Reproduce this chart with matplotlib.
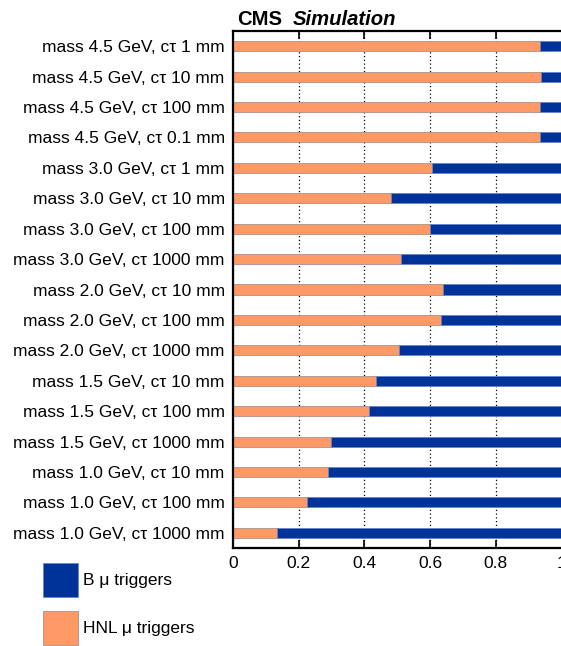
import matplotlib
matplotlib.use('Agg')
import matplotlib.pyplot as plt

plt.rcParams['font.family'] = ['Liberation Sans', 'DejaVu Sans']

# signal samples, top to bottom
samples = [
    'mass 4.5 GeV, cτ 1 mm',
    'mass 4.5 GeV, cτ 10 mm',
    'mass 4.5 GeV, cτ 100 mm',
    'mass 4.5 GeV, cτ 0.1 mm',
    'mass 3.0 GeV, cτ 1 mm',
    'mass 3.0 GeV, cτ 10 mm',
    'mass 3.0 GeV, cτ 100 mm',
    'mass 3.0 GeV, cτ 1000 mm',
    'mass 2.0 GeV, cτ 10 mm',
    'mass 2.0 GeV, cτ 100 mm',
    'mass 2.0 GeV, cτ 1000 mm',
    'mass 1.5 GeV, cτ 10 mm',
    'mass 1.5 GeV, cτ 100 mm',
    'mass 1.5 GeV, cτ 1000 mm',
    'mass 1.0 GeV, cτ 10 mm',
    'mass 1.0 GeV, cτ 100 mm',
    'mass 1.0 GeV, cτ 1000 mm',
]
# fraction of events from HNL muon triggers
hnl_frac = [0.936, 0.937, 0.936, 0.936, 0.606, 0.480, 0.600, 0.511,
            0.639, 0.632, 0.506, 0.434, 0.414, 0.298, 0.288, 0.226, 0.134]
b_frac = [1 - f for f in hnl_frac]

xticks = [0, 0.2, 0.4, 0.6, 0.8, 1]
xticklabels = ['0', '0.2', '0.4', '0.6', '0.8', '1']

orange = '#ff9966'
blue = '#003399'

fig = plt.figure(figsize=(5.61, 6.46), dpi=100)
ax = fig.add_axes([233 / 561, 98 / 646, 328.5 / 561, 517 / 646])

y = list(range(len(samples)))
h_hnl = ax.barh(y, hnl_frac, height=0.33, color=orange,
                edgecolor='#b09088', linewidth=0.6, zorder=2)
h_b = ax.barh(y, b_frac, left=hnl_frac, height=0.33, color=blue,
              edgecolor='#6a86c4', linewidth=0.6, zorder=2)

ax.set_ylim(len(samples) - 0.5, -0.5)
ax.set_xlim(0, 1)
ax.set_yticks(y)
ax.set_yticklabels(samples, fontsize=12.5)
ax.set_xticks(xticks)
ax.set_xticklabels(xticklabels, fontsize=12.5)
ax.tick_params(axis='x', direction='in', length=6, width=1.2, top=True,
               pad=6, color='black')
ax.tick_params(axis='y', direction='in', length=2, width=0.8, pad=6)

ax.set_axisbelow(True)
ax.grid(axis='x', linestyle=(0, (1, 2)), color='black', linewidth=0.9)

for side in ['left', 'top', 'bottom']:
    ax.spines[side].set_linewidth(1.6)
ax.spines['right'].set_visible(False)

fig.text(237 / 561, 1 - 25 / 646, 'CMS', fontsize=14.6, fontweight='bold',
         va='baseline', ha='left')
fig.text(293 / 561, 1 - 25 / 646, 'Simulation', fontsize=14.6,
         fontweight='bold', style='italic', va='baseline', ha='left')

fig.legend([h_b, h_hnl], ['B μ triggers', 'HNL μ triggers'],
           loc='upper left', bbox_to_anchor=(36 / 561, 1 - 556 / 646),
           frameon=False, fontsize=12.5, handlelength=2.0, handleheight=2.65,
           labelspacing=0.8, handletextpad=0.3, borderaxespad=0)

fig.savefig('out.png', dpi=100)
